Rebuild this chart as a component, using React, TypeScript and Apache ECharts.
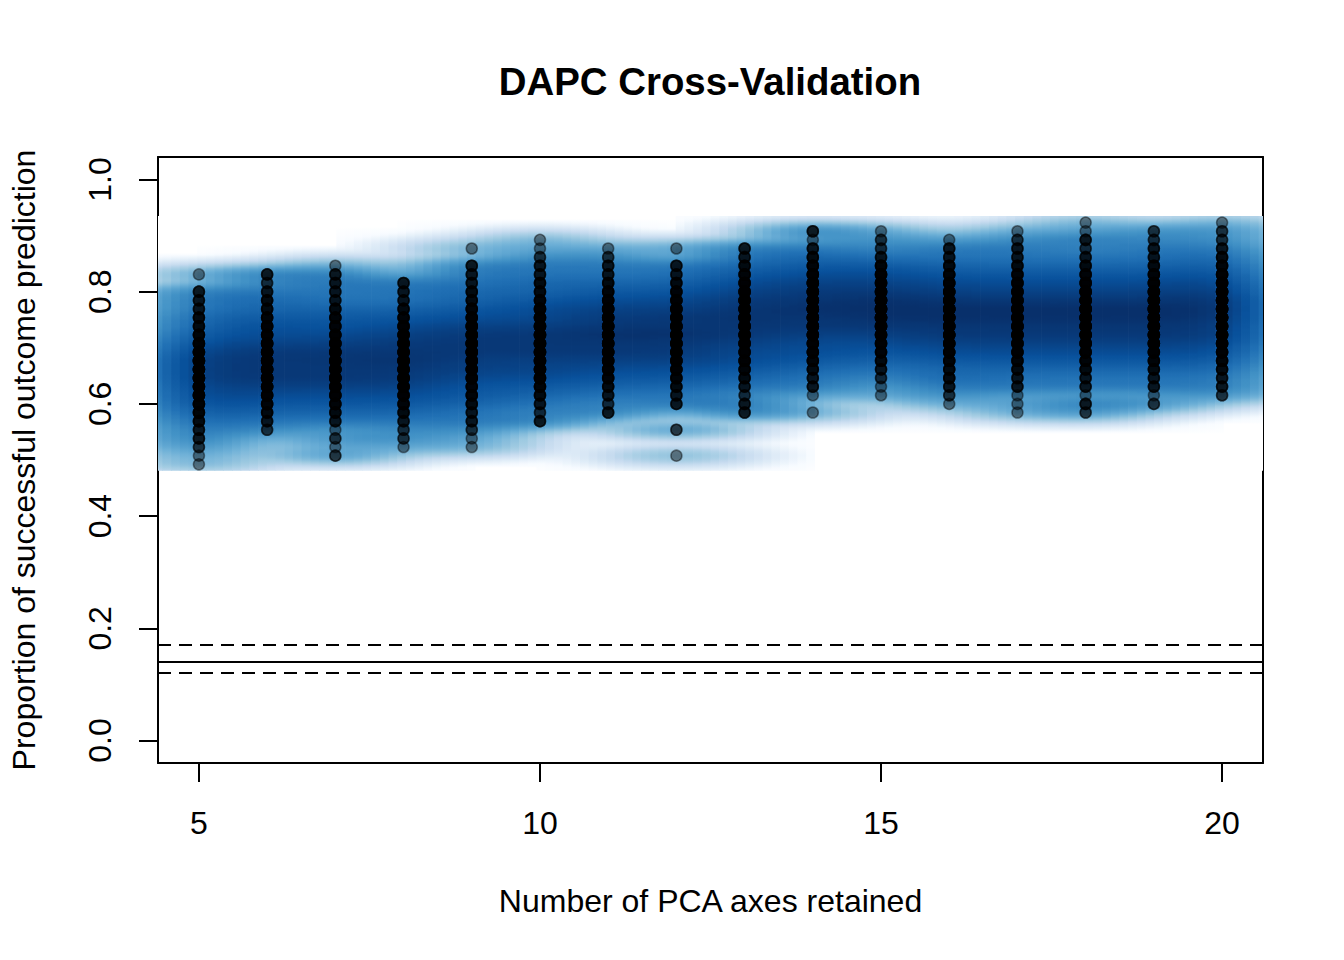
import React, { useEffect, useRef } from "react";
import * as echarts from "echarts";

// ---------- data ----------
const pcaAxesRetained = [5, 6, 7, 8, 9, 10, 11, 12, 13, 14, 15, 16, 17, 18, 19, 20];
// proportions are k / validationSetSize
const validationSetSize = 65;
// lowest k observed for each number of PCA axes
const lowestCorrect = [32, 36, 33, 34, 34, 37, 38, 33, 38, 38, 40, 39, 38, 38, 39, 40];
// replicate counts for k = lowestCorrect, lowestCorrect+1, ...
const counts05 = [1, 1, 2, 3, 3, 4, 5, 6, 7, 7, 8, 8, 8, 7, 6, 5, 4, 4, 3, 3, 3, 0, 1];
const counts06 = [2, 3, 4, 5, 6, 7, 8, 8, 8, 8, 7, 6, 6, 5, 4, 4, 3, 2, 3];
const counts07 = [2, 1, 2, 1, 3, 4, 5, 6, 7, 8, 8, 8, 8, 7, 6, 5, 5, 4, 3, 3, 3, 3, 1];
const counts08 = [1, 2, 2, 3, 4, 5, 6, 7, 8, 8, 9, 8, 8, 7, 6, 5, 4, 3, 3, 3];
const counts09 = [1, 1, 2, 3, 3, 4, 5, 5, 6, 7, 7, 8, 8, 8, 7, 6, 5, 4, 4, 3, 3, 3, 0, 1];
const counts10 = [3, 2, 3, 4, 5, 6, 7, 7, 8, 8, 8, 7, 6, 6, 5, 4, 4, 3, 3, 2, 1, 1];
const counts11 = [3, 2, 3, 4, 5, 6, 7, 8, 8, 9, 8, 8, 7, 6, 5, 4, 3, 3, 2, 1];
const counts12 = [1, 0, 0, 2, 0, 0, 3, 3, 4, 5, 6, 7, 8, 8, 9, 8, 8, 7, 6, 5, 4, 3, 3, 0, 1];
const counts13 = [3, 3, 2, 3, 4, 5, 6, 6, 7, 8, 8, 9, 8, 8, 7, 6, 5, 4, 3, 3];
const counts14 = [1, 0, 1, 3, 3, 4, 5, 6, 6, 7, 8, 8, 9, 8, 8, 7, 6, 5, 4, 3, 1, 3];
const counts15 = [1, 1, 2, 3, 4, 5, 6, 7, 8, 9, 9, 9, 8, 7, 6, 5, 3, 2, 2, 1];
const counts16 = [1, 2, 3, 4, 4, 5, 6, 7, 8, 8, 9, 9, 8, 7, 6, 5, 4, 3, 3, 1];
const counts17 = [1, 1, 1, 3, 3, 4, 5, 6, 7, 8, 8, 9, 9, 8, 7, 6, 5, 4, 3, 3, 2, 1];
const counts18 = [2, 3, 1, 3, 3, 4, 5, 6, 7, 8, 8, 9, 9, 8, 7, 6, 5, 4, 3, 2, 3, 1, 1];
const counts19 = [2, 1, 3, 3, 4, 5, 6, 7, 8, 8, 9, 9, 8, 7, 6, 5, 4, 3, 3, 2, 2];
const counts20 = [2, 3, 3, 4, 5, 6, 7, 8, 8, 9, 9, 9, 8, 7, 6, 5, 4, 3, 2, 2, 1];
const replicateCounts = [
  counts05, counts06, counts07, counts08, counts09, counts10, counts11, counts12,
  counts13, counts14, counts15, counts16, counts17, counts18, counts19, counts20,
];
// random-expectation reference lines
const randomMean = 0.143;
const randomUpper = 0.169;
const randomLower = 0.117;

const xTicks = [5, 10, 15, 20];
const yTicks = [0, 0.2, 0.4, 0.6, 0.8, 1.0];
const blues9 = ["#F7FBFF", "#DEEBF7", "#C6DBEF", "#9ECAE1", "#6BAED6", "#4292C6", "#2171B5", "#08519C", "#08306B"];

// ---------- observations ----------
const observations: number[][] = [];
pcaAxesRetained.forEach((x, i) => {
  replicateCounts[i].forEach((c, j) => {
    const y = (lowestCorrect[i] + j) / validationSetSize;
    for (let r = 0; r < c; r++) observations.push([x, y]);
  });
});

// ---------- smoothScatter-like density (binned 2D KDE) ----------
function q7(sorted: number[], p: number) {
  const h = (sorted.length - 1) * p;
  const lo = Math.floor(h);
  const hi = Math.min(lo + 1, sorted.length - 1);
  return sorted[lo] + (h - lo) * (sorted[hi] - sorted[lo]);
}
const xsSorted = observations.map((o) => o[0]).sort((a, b) => a - b);
const ysSorted = observations.map((o) => o[1]).sort((a, b) => a - b);
const bwX = (q7(xsSorted, 0.95) - q7(xsSorted, 0.05)) / 25;
const bwY = (q7(ysSorted, 0.95) - q7(ysSorted, 0.05)) / 25;
const rX = [xsSorted[0] - bwX, xsSorted[xsSorted.length - 1] + bwX];
const rY = [ysSorted[0] - bwY, ysSorted[ysSorted.length - 1] + bwY];
const NB = 128;
const dX = (rX[1] - rX[0]) / (NB - 1);
const dY = (rY[1] - rY[0]) / (NB - 1);

function computeDensity() {
  const g = new Float64Array(NB * NB); // index ix*NB+iy
  for (const [x, y] of observations) {
    const fx = (x - rX[0]) / dX;
    const fy = (y - rY[0]) / dY;
    let ix = Math.floor(fx);
    let iy = Math.floor(fy);
    if (ix >= NB - 1) ix = NB - 2;
    if (iy >= NB - 1) iy = NB - 2;
    const wx = fx - ix;
    const wy = fy - iy;
    g[ix * NB + iy] += (1 - wx) * (1 - wy);
    g[(ix + 1) * NB + iy] += wx * (1 - wy);
    g[ix * NB + iy + 1] += (1 - wx) * wy;
    g[(ix + 1) * NB + iy + 1] += wx * wy;
  }
  const Lx = Math.min(Math.floor((3.4 * bwX) / dX), NB - 1);
  const Ly = Math.min(Math.floor((3.4 * bwY) / dY), NB - 1);
  const kx: number[] = [];
  for (let l = -Lx; l <= Lx; l++) kx.push(Math.exp(-0.5 * Math.pow((l * dX) / bwX, 2)));
  const ky: number[] = [];
  for (let l = -Ly; l <= Ly; l++) ky.push(Math.exp(-0.5 * Math.pow((l * dY) / bwY, 2)));
  const t = new Float64Array(NB * NB);
  for (let ix = 0; ix < NB; ix++)
    for (let iy = 0; iy < NB; iy++) {
      let s = 0;
      for (let l = -Lx; l <= Lx; l++) {
        const jx = ix + l;
        if (jx < 0 || jx >= NB) continue;
        s += g[jx * NB + iy] * kx[l + Lx];
      }
      t[ix * NB + iy] = s;
    }
  const d = new Float64Array(NB * NB);
  for (let ix = 0; ix < NB; ix++)
    for (let iy = 0; iy < NB; iy++) {
      let s = 0;
      for (let l = -Ly; l <= Ly; l++) {
        const jy = iy + l;
        if (jy < 0 || jy >= NB) continue;
        s += t[ix * NB + jy] * ky[l + Ly];
      }
      d[ix * NB + iy] = Math.pow(s, 0.25);
    }
  return d;
}

function hexToRgb(h: string) {
  return [parseInt(h.slice(1, 3), 16), parseInt(h.slice(3, 5), 16), parseInt(h.slice(5, 7), 16)];
}
function buildRamp(n: number) {
  const stops = ["#FFFFFF", ...blues9].map(hexToRgb);
  const out: string[] = [];
  for (let k = 0; k < n; k++) {
    const s = (k / (n - 1)) * (stops.length - 1);
    const a = Math.min(Math.floor(s), stops.length - 2);
    const f = s - a;
    const c = [0, 1, 2].map((m) => Math.round(stops[a][m] + (stops[a + 1][m] - stops[a][m]) * f));
    out.push(`rgb(${c[0]},${c[1]},${c[2]})`);
  }
  return out;
}

const density = computeDensity();
const ramp = buildRamp(256);
let zMin = Infinity;
let zMax = -Infinity;
for (const v of density) {
  if (v < zMin) zMin = v;
  if (v > zMax) zMax = v;
}
const columnGradients = Array.from({ length: NB }, (_, ix) => {
  const stops: { offset: number; color: string }[] = [];
  for (let r = NB - 1; r >= 0; r--) {
    const z = density[ix * NB + r];
    const k = Math.min(255, Math.floor(((z - zMin) / (zMax - zMin)) * 256));
    stops.push({ offset: (NB - 1 - r + 0.5) / NB, color: ramp[k] });
  }
  return stops;
});
const columnData = Array.from({ length: NB }, (_, ix) => [rX[0] + ix * dX, ix]);

const FONT = '"Liberation Sans", Arial, Helvetica, sans-serif';

export default function App() {
  const ref = useRef<HTMLDivElement>(null);
  useEffect(() => {
    const chart = echarts.init(ref.current!, null, { renderer: "svg" });
    const axisCommon = {
      axisLine: { show: true, onZero: false, lineStyle: { color: "#000", width: 2 } },
      splitLine: { show: false },
    };
    chart.setOption({
      animation: false,
      backgroundColor: "#fff",
      grid: { left: 158, right: 81, top: 157, bottom: 197, containLabel: false },
      graphic: [
        {
          type: "text",
          x: 710,
          y: 81,
          style: {
            text: "DAPC Cross-Validation",
            fontSize: 38.4,
            fontWeight: "bold",
            fontFamily: FONT,
            fill: "#000",
            align: "center",
            verticalAlign: "middle",
          },
        },
      ],
      xAxis: [
        {
          type: "value",
          min: 4.4,
          max: 20.6,
          position: "bottom",
          ...axisCommon,
          axisTick: { show: true, length: 19, lineStyle: { color: "#000", width: 2 }, customValues: xTicks },
          axisLabel: { show: true, customValues: xTicks, margin: 44, fontSize: 32, fontFamily: FONT, color: "#000" },
          name: "Number of PCA axes retained",
          nameLocation: "middle",
          nameGap: 122,
          nameTextStyle: { fontSize: 32, fontFamily: FONT, color: "#000" },
        },
        {
          type: "value",
          min: 4.4,
          max: 20.6,
          position: "top",
          ...axisCommon,
          axisTick: { show: false },
          axisLabel: { show: false },
        },
      ],
      yAxis: [
        {
          type: "value",
          min: -0.04,
          max: 1.04,
          position: "left",
          ...axisCommon,
          axisTick: { show: true, length: 19, lineStyle: { color: "#000", width: 2 }, customValues: yTicks },
          axisLabel: {
            show: true,
            customValues: yTicks,
            rotate: 90,
            margin: 42,
            fontSize: 32,
            fontFamily: FONT,
            color: "#000",
            formatter: (v: number) => v.toFixed(1),
          },
          name: "Proportion of successful outcome prediction",
          nameLocation: "middle",
          nameRotate: 90,
          nameGap: 118,
          nameTextStyle: { fontSize: 32, fontFamily: FONT, color: "#000" },
        },
        {
          type: "value",
          min: -0.04,
          max: 1.04,
          position: "right",
          ...axisCommon,
          axisTick: { show: false },
          axisLabel: { show: false },
        },
      ],
      series: [
        {
          type: "custom",
          name: "density",
          clip: true,
          silent: true,
          z: 1,
          progressive: 0,
          data: columnData,
          encode: { x: 0 },
          renderItem: (_params: any, api: any) => {
            const xc = api.value(0);
            const ix = api.value(1);
            const p0 = api.coord([xc - dX / 2, rY[1] + dY / 2]);
            const p1 = api.coord([xc + dX / 2, rY[0] - dY / 2]);
            return {
              type: "rect",
              shape: { x: p0[0], y: p0[1], width: p1[0] - p0[0] + 0.7, height: p1[1] - p0[1] },
              style: { fill: new echarts.graphic.LinearGradient(0, 0, 0, 1, columnGradients[ix]) },
            };
          },
        },
        {
          type: "scatter",
          name: "replicates",
          z: 3,
          progressive: 0,
          silent: true,
          symbol: "circle",
          symbolSize: 11,
          itemStyle: { color: "rgba(0,0,0,0.55)", borderColor: "rgba(0,0,0,0.55)", borderWidth: 1.5 },
          data: observations,
          markLine: {
            silent: true,
            symbol: ["none", "none"],
            label: { show: false },
            z: 4,
            data: [
              { yAxis: randomMean, lineStyle: { color: "#000", width: 2, type: "solid" } },
              { yAxis: randomUpper, lineStyle: { color: "#000", width: 2, type: [13, 8] } },
              { yAxis: randomLower, lineStyle: { color: "#000", width: 2, type: [13, 8] } },
            ],
          },
        },
      ],
    });
    return () => chart.dispose();
  }, []);
  return (
    <div
      ref={ref}
      style={{ position: "fixed", left: 0, top: 0, width: 1344, height: 960, background: "#fff" }}
    />
  );
}
